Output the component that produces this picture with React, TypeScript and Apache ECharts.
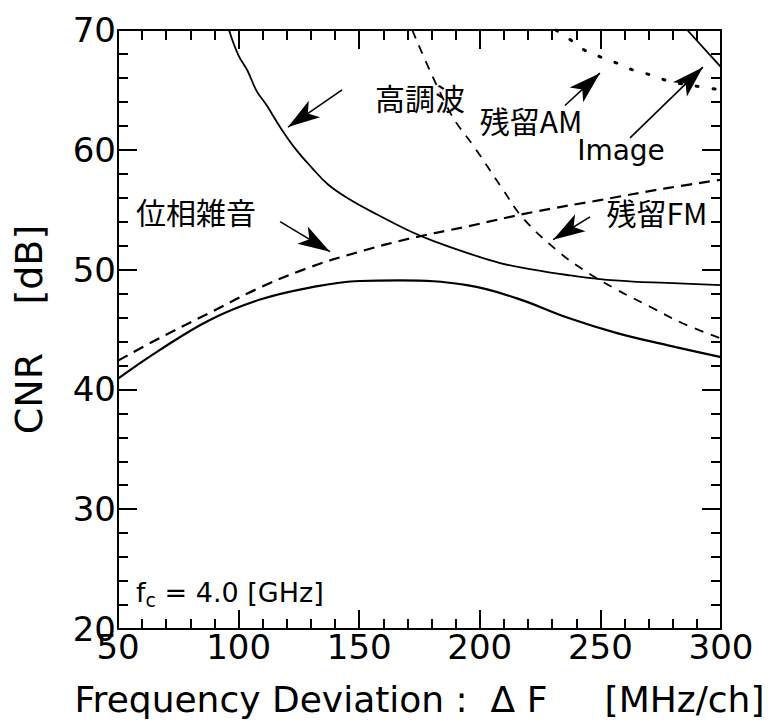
import React, { useEffect, useRef } from "react";
import * as echarts from "echarts";

// ---- data ----
const xTicks = [50, 100, 150, 200, 250, 300];
const yTicks = [20, 30, 40, 50, 60, 70];
const xMinor = [60, 70, 80, 90, 110, 120, 130, 140, 160, 170, 180, 190, 210, 220, 230, 240, 260, 270, 280, 290];
const yMinor = [22, 24, 26, 28, 32, 34, 36, 38, 42, 44, 46, 48, 52, 54, 56, 58, 62, 64, 66, 68];

// total CNR (lower solid)
const totalX = [50, 67.4, 88.1, 108.9, 129.6, 150.3, 166.9, 194.7, 215.4, 236.2, 256.9, 277.6, 300];
const totalY = [40.9, 43.3, 45.8, 47.5, 48.5, 49.05, 49.1, 48.7, 47.6, 46.0, 44.7, 43.7, 42.7];

// phase noise (rising dashed)
const phaseX = [50, 67.4, 88.1, 108.9, 129.6, 150.3, 171.1, 194.7, 222.1, 249.8, 277.6, 300];
const phaseY = [42.4, 44.3, 46.4, 48.5, 50.2, 51.5, 52.6, 53.6, 54.8, 55.8, 56.8, 57.5];

// harmonics (upper solid)
const harmX = [96, 99.9, 103.7, 107.5, 111.7, 117.2, 123.5, 130.4, 137.1, 144.9, 157.4, 171.1, 180.6, 194.7, 208.4, 222.1, 236.2, 249.8, 263.5, 277.6, 300];
const harmY = [70, 67.9, 66.6, 64.9, 63.7, 61.9, 60.1, 58.5, 57.1, 56.0, 54.6, 53.2, 52.4, 51.4, 50.55, 50.0, 49.55, 49.2, 49.0, 48.9, 48.7];

// residual FM (steep dashed)
const fmX = [172, 187.6, 198, 209.2, 217.9, 232, 242.8, 255.2, 270.6, 284.3, 300];
const fmY = [70, 63.15, 60.15, 56.8, 54.3, 51.6, 50.0, 48.5, 46.9, 45.5, 44.25];

// residual AM (dotted)
const amX = [231.5, 237.4, 243.6, 250.7, 257.3, 264.3, 271.8, 278.9, 293.4, 300];
const amY = [70, 69.2, 68.3, 67.7, 67.2, 66.6, 66.2, 65.7, 65.2, 65.0];

// image (top-right solid)
const imgX = [286, 300];
const imgY = [70, 66.9];

// annotation arrows: [fromX, fromY, toX, toY]
const arrows = [
  [142.9, 65.0, 120.5, 61.9],
  [235.3, 63.7, 249.8, 66.4],
  [262.3, 61.0, 292.5, 66.9],
  [245.7, 54.4, 230.4, 52.5],
  [117.2, 54.0, 137.9, 51.5],
];

const FONT = '"DejaVu Sans", "Noto Sans CJK JP", sans-serif';
const CJK = '"Noto Sans CJK JP", "DejaVu Sans", sans-serif';

const pairs = (xs: number[], ys: number[]) => xs.map((x, i) => [x, ys[i]]);

const X_MIN = xTicks[0];
const X_MAX = xTicks[xTicks.length - 1];
const Y_MIN = yTicks[0];
const Y_MAX = yTicks[yTicks.length - 1];
const MAJ = 19;
const MIN_LEN = 10;

export default function App() {
  const ref = useRef<HTMLDivElement>(null);
  useEffect(() => {
    if (!ref.current) return;
    const chart = echarts.init(ref.current, undefined, { renderer: "svg" });
    const tickCfg = {
      axisTick: { show: true, inside: true, length: MAJ, lineStyle: { color: "#000", width: 2 } },
      minorTick: { show: true, splitNumber: 5, length: MIN_LEN, lineStyle: { color: "#000", width: 2 } },
    };
    const axisLine = { show: true, onZero: false, lineStyle: { color: "#000", width: 2 } };
    const line = (data: number[][], style: any) => ({
      type: "line",
      data,
      symbol: "none",
      smooth: 0.4,
      xAxisIndex: 0,
      yAxisIndex: 0,
      lineStyle: { color: "#000", ...style },
      silent: true,
    });
    const textEl = (text: string, x: number, y: number, font = CJK, size = 30) => ({
      type: "text",
      x,
      y,
      style: {
        text,
        fill: "#000",
        font: `${size}px ${font}`,
        align: "center",
        verticalAlign: "middle",
      },
    });
    chart.setOption({
      animation: false,
      backgroundColor: "#fff",
      grid: { left: 118, right: 56, top: 30, bottom: 98 },
      xAxis: [
        {
          type: "value",
          min: X_MIN,
          max: X_MAX,
          interval: 50,
          position: "bottom",
          axisLine,
          ...tickCfg,
          splitLine: { show: false },
          axisLabel: { show: true, color: "#000", fontSize: 34, fontFamily: FONT, margin: 1, showMinLabel: true, showMaxLabel: true },
          name: "Frequency Deviation :  \u0394 F     [MHz/ch]",
          nameLocation: "middle",
          nameGap: 52,
          nameTextStyle: { color: "#000", fontSize: 36, fontFamily: FONT },
        },
        {
          type: "value",
          min: X_MIN,
          max: X_MAX,
          interval: 50,
          position: "top",
          axisLine,
          ...tickCfg,
          splitLine: { show: false },
          axisLabel: { show: false },
        },
      ],
      yAxis: [
        {
          type: "value",
          min: Y_MIN,
          max: Y_MAX,
          interval: 10,
          position: "left",
          axisLine,
          ...tickCfg,
          splitLine: { show: false },
          axisLabel: { show: true, color: "#000", fontSize: 34, fontFamily: FONT, margin: 2, showMinLabel: true, showMaxLabel: true },
          name: "CNR    [dB]",
          nameLocation: "middle",
          nameGap: 70,
          nameRotate: 90,
          nameTextStyle: { color: "#000", fontSize: 38, fontFamily: FONT },
        },
        {
          type: "value",
          min: Y_MIN,
          max: Y_MAX,
          interval: 10,
          position: "right",
          axisLine,
          ...tickCfg,
          splitLine: { show: false },
          axisLabel: { show: false },
        },
      ],
      series: [
        line(pairs(totalX, totalY), { width: 2.2, type: "solid" }),
        line(pairs(phaseX, phaseY), { width: 2.2, type: [11, 7] }),
        line(pairs(harmX, harmY), { width: 1.8, type: "solid" }),
        line(pairs(fmX, fmY), { width: 1.8, type: [9, 8] }),
        line(pairs(amX, amY), { width: 3, type: [2, 15], cap: "round" }),
        {
          ...line(pairs(imgX, imgY), { width: 1.8, type: "solid" }),
          smooth: false,
          markLine: {
            silent: true,
            symbol: ["none", "arrow"],
            symbolSize: [15, 32],
            label: { show: false },
            lineStyle: { color: "#000", width: 1.6, type: "solid" },
            emphasis: { disabled: true },
            data: arrows.map((a) => [{ coord: [a[0], a[1]] }, { coord: [a[2], a[3]] }]),
          },
        },
      ],
      graphic: [
        textEl("高調波", 420, 97),
        textEl("残留AM", 531, 120),
        textEl("Image", 621, 150, FONT, 28),
        textEl("残留FM", 657, 212),
        textEl("位相雑音", 196, 211),
        {
          type: "text",
          x: 136,
          y: 592,
          style: {
            text: "{a|f}{b|c}{a| = 4.0 [GHz]}",
            verticalAlign: "middle",
            rich: {
              a: { fontSize: 27, fontFamily: FONT, fill: "#000", lineHeight: 34 },
              b: { fontSize: 19, fontFamily: FONT, fill: "#000", lineHeight: 16, verticalAlign: "bottom" },
            },
          },
        },
      ],
    });
    return () => chart.dispose();
  }, []);
  return (
    <div
      ref={ref}
      style={{ position: "fixed", left: 0, top: 0, width: 777, height: 727, background: "#fff" }}
    />
  );
}
